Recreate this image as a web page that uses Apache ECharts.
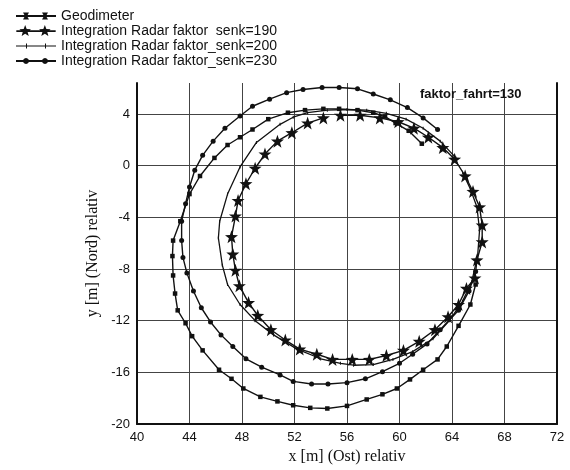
<!DOCTYPE html>
<html><head><meta charset="utf-8">
<script src="https://cdn.jsdelivr.net/npm/echarts@6/dist/echarts.min.js"></script>
<style>html,body{margin:0;padding:0;background:#fff}#c{width:570px;height:470px}</style>
</head><body><div id="c"></div>
<script>
// ---- data ----
const xTicks = [40,44,48,52,56,60,64,68,72];
const yTicks = [-20,-16,-12,-8,-4,0,4];
const seriesNames = ['Geodimeter','Integration Radar faktor  senk=190','Integration Radar faktor_senk=200','Integration Radar faktor_senk=230'];
const annotation = 'faktor_fahrt=130';

const geoX = [61.7,60.7,59.7,58.9,58.0,56.8,55.4,54.2,52.8,51.5,50.0,48.8,47.85,46.9,45.9,44.8,44.0,43.3,42.75,42.7,42.75,42.9,43.1,43.7,44.2,45.0,46.25,47.2,48.1,49.4,50.7,51.9,53.2,54.5,56.0,57.5,58.7,59.8,60.8,61.8,62.9,63.6,64.5,65.4,65.8];
const geoY = [1.7,2.7,3.3,3.8,4.1,4.3,4.4,4.4,4.3,4.1,3.6,2.8,2.2,1.6,0.6,-0.8,-2.2,-4.3,-5.8,-7.0,-8.5,-9.9,-11.2,-12.2,-13.2,-14.3,-15.8,-16.5,-17.25,-17.9,-18.25,-18.55,-18.75,-18.8,-18.6,-18.1,-17.7,-17.25,-16.55,-15.8,-15.0,-14.0,-12.4,-10.75,-9.2];

const s190X = [55.5,57.0,58.5,59.9,61.1,62.2,63.3,64.2,65.0,65.6,66.1,66.3,66.3,65.9,65.75,65.1,64.5,63.7,62.7,61.5,60.3,59.0,57.7,56.4,54.9,53.7,52.4,51.3,50.2,49.2,48.5,47.8,47.5,47.3,47.2,47.5,47.7,48.3,49.0,49.75,50.7,51.8,53.0,54.2];
const s190Y = [3.9,3.9,3.7,3.4,2.9,2.2,1.4,0.5,-0.8,-2.0,-3.2,-4.6,-5.9,-7.3,-8.7,-9.5,-10.75,-11.7,-12.7,-13.6,-14.3,-14.7,-15.0,-15.0,-15.0,-14.6,-14.2,-13.5,-12.7,-11.6,-10.6,-9.3,-8.1,-6.85,-5.5,-3.9,-2.7,-1.4,-0.2,0.9,1.9,2.55,3.3,3.7];

const s200X = [64.3,63.1,61.8,60.5,59.0,57.5,56.0,54.5,53.0,51.9,50.9,49.1,47.85,46.9,46.3,46.2,46.5,46.9,47.85,49.0,50.4,52.2,54.0,55.5,56.5,58.0,59.5,61.0,62.55,63.8,64.8,65.5,65.95,66.1,65.9,65.4,64.8];
const s200Y = [0.6,1.9,2.9,3.6,4.05,4.3,4.35,4.3,4.1,3.75,3.2,1.8,-0.1,-2.2,-4.3,-5.6,-7.7,-9.2,-10.75,-12.0,-13.1,-14.2,-14.95,-15.3,-15.45,-15.4,-15.0,-14.4,-13.4,-12.0,-10.5,-9.0,-7.0,-5.0,-3.2,-1.8,-0.5];

const s230X = [62.9,61.8,60.6,59.3,58.0,56.8,55.4,54.1,52.65,51.4,50.1,48.8,47.85,46.7,45.8,45.0,44.4,44.0,43.7,43.4,43.4,43.5,43.8,44.3,44.9,45.6,46.4,47.3,48.3,49.5,50.9,51.9,53.3,54.55,56.0,57.4,58.7,60.0,61.0,62.1,63.1,64.5,65.3,65.8];
const s230Y = [2.8,3.7,4.5,5.1,5.55,5.95,6.05,6.05,5.9,5.65,5.15,4.6,3.85,2.9,1.9,0.8,-0.35,-1.65,-2.95,-4.3,-5.8,-7.1,-8.3,-9.7,-11.0,-12.1,-13.1,-14.0,-14.95,-15.6,-16.2,-16.7,-16.9,-16.9,-16.8,-16.5,-15.95,-15.3,-14.6,-13.8,-12.7,-11.2,-9.7,-8.2];

// ---- helpers ----
function zip(xs, ys){ return xs.map((x,i)=>[x, ys[i]]); }
function starPath(cx, cy, R, r){
  let s='';
  for(let i=0;i<10;i++){
    const a = (-90 + i*36) * Math.PI/180;
    const rad = i%2 ? r : R;
    s += (i? 'L':'M') + (cx + rad*Math.cos(a)).toFixed(2) + ',' + (cy + rad*Math.sin(a)).toFixed(2);
  }
  return s + 'Z';
}
function polyDot(cx, cy, r){
  let s='';
  for(let i=0;i<12;i++){
    const a = i*30*Math.PI/180;
    s += (i? 'L':'M') + (cx + r*Math.cos(a)).toFixed(2) + ',' + (cy + r*Math.sin(a)).toFixed(2);
  }
  return s + 'Z ';
}
const BOX = 'M0,0L0.01,0L0,0.01Z M40,12L39.99,12L40,11.99Z ';
const LINE = 'M0,5.1L40,5.1L40,6.9L0,6.9Z ';
const LINE_THIN = 'M0,5.5L40,5.5L40,6.5L0,6.5Z ';
const iconGeo = 'path://' + BOX + LINE + 'M7,2.5L13,2.5L11,6L13,9.5L7,9.5L9,6Z M26,2.5L32,2.5L30,6L32,9.5L26,9.5L28,6Z';
const iconStar = 'path://' + BOX + LINE + starPath(9,6,6.2,2.6) + ' ' + starPath(29,6,6.2,2.6);
const iconThin = 'path://' + BOX + LINE_THIN + 'M10,3.5L11,3.5L11,8.5L10,8.5Z M29,3.5L30,3.5L30,8.5L29,8.5Z';
const iconDot = 'path://' + BOX + LINE + polyDot(10,6,3) + polyDot(29,6,3);

const ink = '#111';
const chart = echarts.init(document.getElementById('c'), null, {renderer:'canvas'});
chart.setOption({
  backgroundColor:'#fff',
  animation:false,
  grid:{left:137, right:13, top:83, bottom:42, containLabel:false},
  title:{text:annotation, left:415, top:83, textStyle:{fontFamily:'Liberation Sans, Arial', fontSize:13, fontWeight:'bold', color:ink}},
  legend:{
    orient:'vertical', left:11, top:4, itemWidth:40, itemHeight:12, itemGap:1,
    textStyle:{fontFamily:'Liberation Sans, Arial', fontSize:14, color:ink},
    data:[
      {name:seriesNames[0], icon:iconGeo},
      {name:seriesNames[1], icon:iconStar},
      {name:seriesNames[2], icon:iconThin},
      {name:seriesNames[3], icon:iconDot}
    ]
  },
  xAxis:{
    type:'value', min:xTicks[0], max:xTicks[xTicks.length-1], interval:4,
    name:'x [m] (Ost) relativ', nameLocation:'middle', nameGap:25,
    nameTextStyle:{fontFamily:'Liberation Serif, Times New Roman', fontSize:16, color:ink},
    axisLine:{show:true, onZero:false, lineStyle:{color:ink, width:2}},
    axisTick:{show:false},
    axisLabel:{margin:7, fontFamily:'Liberation Sans, Arial', fontSize:13, color:ink},
    splitLine:{show:true, showMinLine:false, lineStyle:{color:'#444', width:1}}
  },
  yAxis:[{
    type:'value', min:yTicks[0], max:6.4, interval:4,
    name:'y [m] (Nord) relativ', nameLocation:'middle', nameGap:28,
    nameTextStyle:{fontFamily:'Liberation Serif, Times New Roman', fontSize:16, color:ink},
    axisLine:{show:true, onZero:false, lineStyle:{color:ink, width:2}},
    axisTick:{show:false},
    axisLabel:{margin:7, showMaxLabel:false, fontFamily:'Liberation Sans, Arial', fontSize:13, color:ink},
    splitLine:{show:true, showMinLine:false, showMaxLine:false, lineStyle:{color:'#444', width:1}}
  },{
    type:'value', position:'right', min:yTicks[0], max:6.4, interval:4,
    axisLine:{show:true, onZero:false, lineStyle:{color:ink, width:2}},
    axisTick:{show:false}, axisLabel:{show:false}, splitLine:{show:false}
  }],
  series:[
    {name:seriesNames[0], type:'line', data:zip(geoX,geoY), symbol:'rect', symbolSize:4.5,
     lineStyle:{color:ink, width:1.4}, itemStyle:{color:ink}},
    {name:seriesNames[1], type:'line', data:zip(s190X,s190Y), symbol:'path://'+starPath(0,0,10,4), symbolSize:13,
     lineStyle:{color:ink, width:1.4}, itemStyle:{color:ink}},
    {name:seriesNames[2], type:'line', data:zip(s200X,s200Y), symbol:'rect', symbolSize:[1,3],
     lineStyle:{color:ink, width:1.3}, itemStyle:{color:ink}},
    {name:seriesNames[3], type:'line', data:zip(s230X,s230Y), symbol:'circle', symbolSize:5,
     lineStyle:{color:ink, width:1.4}, itemStyle:{color:ink}}
  ]
});
</script></body></html>
